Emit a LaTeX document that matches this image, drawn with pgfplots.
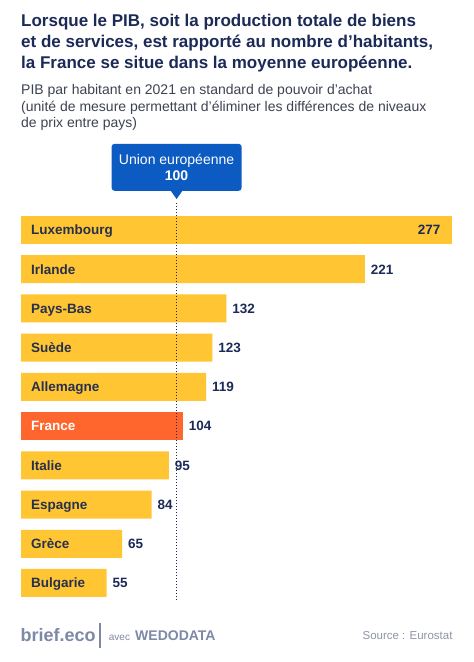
\documentclass[border=0pt]{standalone}
\usepackage{pgfplots}
\pgfplotsset{compat=1.18}
\usepackage{fontspec}
\setmainfont{Liberation Sans}
\definecolor{navy}{HTML}{1B2A57}
\definecolor{ybar}{HTML}{FFC533}
\definecolor{obar}{HTML}{FF662E}
\definecolor{ueblue}{HTML}{0C5BC2}
\definecolor{subgray}{HTML}{3D4351}
\definecolor{lab}{HTML}{27304D}
\definecolor{foot}{HTML}{7D89A6}
\definecolor{src}{HTML}{9096A6}
\begin{document}
\begin{tikzpicture}[x=1pt,y=1pt]
\fill[white] (0,0) rectangle (474,-662);
\path[use as bounding box] (0,0) rectangle (474,-662);
% title
\begin{scope}[every node/.style={anchor=base west, inner sep=0pt, text=navy, font=\fontsize{17}{20}\selectfont\bfseries}]
\node at (21,-26.7) {Lorsque le PIB, soit la production totale de biens};
\node at (21,-47.5) {et de services, est rapporté au nombre d’habitants,};
\node at (21,-68.3) {la France se situe dans la moyenne européenne.};
\end{scope}
\begin{scope}[every node/.style={anchor=base west, inner sep=0pt, text=subgray, font=\fontsize{14}{16}\selectfont}]
\node at (21,-94.5) {PIB par habitant en 2021 en standard de pouvoir d’achat};
\node at (21,-111) {(unité de mesure permettant d’éliminer les différences de niveaux};
\node at (21,-127.5) {de prix entre pays)};
\end{scope}
% footer
\node[anchor=base west, inner sep=0pt, text=foot, font=\fontsize{18}{20}\selectfont\bfseries] at (20.5,-641.5) {brief.eco};
\draw[foot, line width=1.3pt] (100,-623) -- (100,-648);
\node[anchor=base west, inner sep=0pt, text=foot, font=\fontsize{10}{12}\selectfont] at (108.7,-640) {avec};
\node[anchor=base west, inner sep=0pt, text=foot, font=\fontsize{14}{16}\selectfont\bfseries] at (135,-640) {WEDODATA};
\node[anchor=base east, inner sep=0pt, text=src, font=\fontsize{11.5}{14}\selectfont] at (452.7,-639.5) {Source : Eurostat};
\begin{axis}[
  at={(21pt,-210.4pt)}, anchor=north west,
  scale only axis, width=431pt, height=392.2pt,
  xmin=0, xmax=277, ymin=-0.5, ymax=9.5, y dir=reverse,
  xbar, bar width=28pt, bar shift=0pt,
  axis on top,
  axis line style={draw=none},
  xtick=\empty, ytick={0,1,2,3,4,5,6,7,8,9},
  yticklabels={Luxembourg,Irlande,Pays-Bas,Suède,Allemagne,\textcolor{white}{France},Italie,Espagne,Grèce,Bulgarie},
  major tick length=0pt,
  yticklabel style={anchor=west, xshift=6.5pt, text height=9.7pt, text depth=0pt, font=\fontsize{13.5}{16}\selectfont\bfseries, text=lab},
  clip=false,
  /pgf/number format/assume math mode=true,
  nodes near coords style={font=\fontsize{13.5}{16}\selectfont\bfseries, text=navy, text height=9.7pt, text depth=0pt},
]
\addplot[fill=ybar, draw=none, nodes near coords, nodes near coords style={anchor=east, xshift=-8pt}] coordinates {(277,0)};
\addplot[fill=ybar, draw=none, nodes near coords, nodes near coords style={anchor=west, xshift=2.5pt}] coordinates {(221,1) (132,2) (123,3) (119,4) (95,6) (84,7) (65,8) (55,9)};
\addplot[fill=obar, draw=none, nodes near coords, nodes near coords style={anchor=west, xshift=2.5pt}] coordinates {(104,5)};
\addplot[sharp plot, draw=navy, line width=1.5pt, dash pattern=on 1.4pt off 1.6pt, mark=none] coordinates {(100,-0.69) (100,9.41)};
\coordinate (tip) at (axis cs:100,-0.79);
\fill[ueblue] (tip) -- ++(-6pt,8.5pt) -- ++(12pt,0pt) -- cycle;
\node[fill=ueblue, rounded corners=3pt, anchor=south, minimum width=130pt, minimum height=47pt, inner sep=2pt, text=white, align=center, font=\fontsize{14}{16}\selectfont] at ([yshift=8pt]tip) {Union européenne\\\textbf{100}};
\end{axis}
\end{tikzpicture}
\end{document}
